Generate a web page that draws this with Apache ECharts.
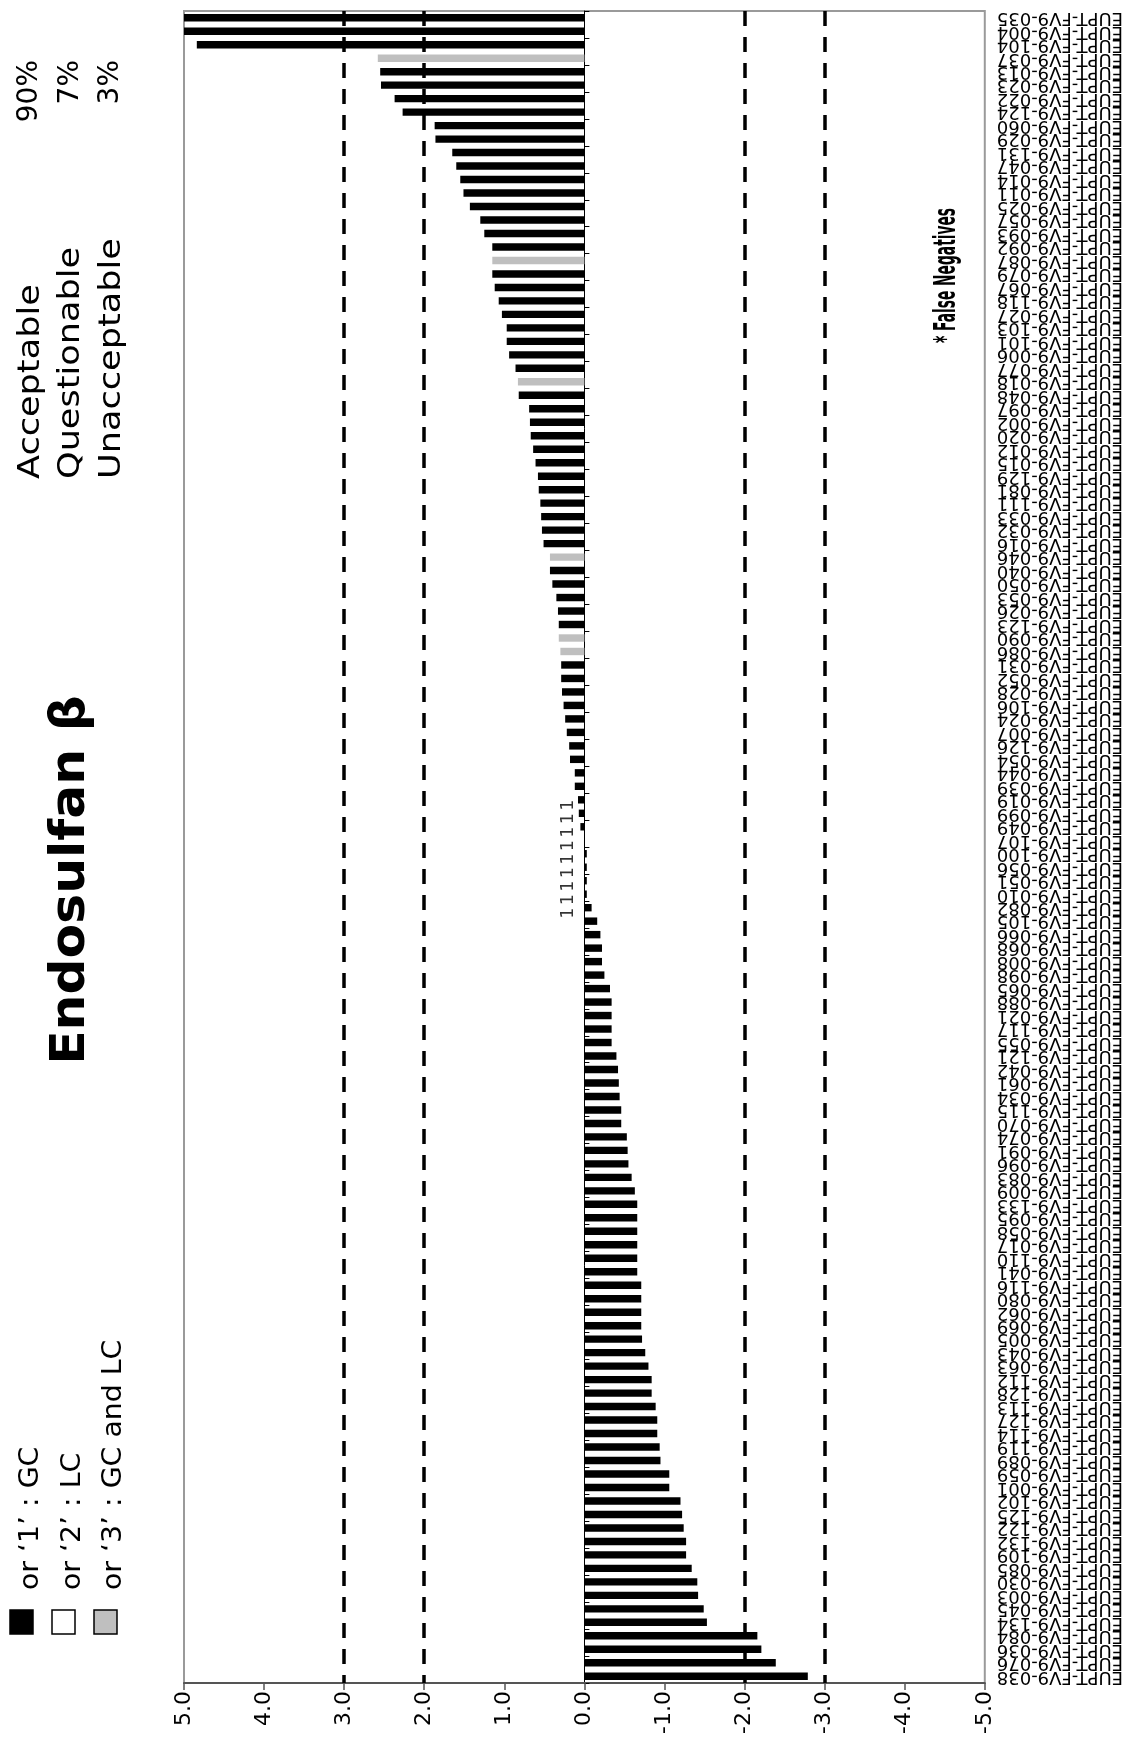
<!DOCTYPE html>
<html><head><meta charset="utf-8">
<script src="https://cdn.jsdelivr.net/npm/echarts@6/dist/echarts.min.js"></script>
<style>html,body{margin:0;padding:0;background:#fff}#c{width:1126px;height:1747px}</style>
</head><body><div id="c"></div>
<script>
// Categories, listed from the top of the chart to the bottom
const labIds = ['035','004','104','037','013','023','022','124','060','029','131','047','014','011','025','057','093','092','087','079','067',
'118','027','103','101','006','077','018','048','097','002','020','012','015','129','081','111','033','032','016','046','040','050','053',
'026','123','090','086','031','052','028','106','024','007','126','054','044','039','019','099','049','107','100','056','051','010',
'082','105','066','068','008','098','065','088','021','117','055','121','042','061','034','115','070','074','091','096','083','009',
'133','095','058','017','110','041','116','080','062','069','005','043','063','112','128','113','127','114','119',
'089','059','001','102','125','122','132','109','085','030','003','045','134','084','036','076','038'];
const categories = labIds.map(id => 'EUPT-FV9-' + id);

// z-scores (same order)
const zScores = [5.0,5.0,4.84,2.58,2.55,2.54,2.37,2.27,1.87,1.86,
1.65,1.60,1.55,1.51,1.43,1.30,1.25,1.15,1.15,1.15,
1.12,1.07,1.03,0.97,0.97,0.94,0.86,0.83,0.82,0.69,
0.68,0.67,0.64,0.61,0.58,0.57,0.55,0.54,0.53,0.51,
0.43,0.43,0.40,0.35,0.33,0.32,0.32,0.30,0.29,0.29,
0.28,0.26,0.24,0.22,0.19,0.18,0.12,0.12,0.08,0.07,
0.05,0.00,-0.03,-0.03,-0.03,-0.03,-0.09,-0.16,-0.20,-0.22,
-0.22,-0.25,-0.32,-0.34,-0.34,-0.34,-0.34,-0.40,-0.42,-0.43,
-0.44,-0.46,-0.46,-0.53,-0.54,-0.55,-0.59,-0.63,-0.66,-0.66,
-0.66,-0.66,-0.66,-0.66,-0.71,-0.71,-0.71,-0.71,-0.72,-0.76,
-0.80,-0.84,-0.84,-0.89,-0.91,-0.91,-0.94,-0.95,-1.06,-1.06,
-1.20,-1.22,-1.24,-1.27,-1.27,-1.34,-1.41,-1.42,-1.49,-1.53,
-2.16,-2.21,-2.39,-2.79];

// method: 1 = GC, 2 = LC, 3 = GC and LC
const methods = [1,1,1,3,1,1,1,1,1,1,
1,1,1,1,1,1,1,1,3,1,
1,1,1,1,1,1,1,3,1,1,
1,1,1,1,1,1,1,1,1,1,
3,1,1,1,1,1,3,3,1,1,
1,1,1,1,1,1,1,1,1,1,
1,1,1,1,1,1,1,1,1,1,
1,1,1,1,1,1,1,1,1,1,
1,1,1,1,1,1,1,1,1,1,
1,1,1,1,1,1,1,1,1,1,
1,1,1,1,1,1,1,1,1,1,
1,1,1,1,1,1,1,1,1,1,
1,1,1,1];

// rows whose bars are too short to show colour get the method code as text
const labelledRows = [58,59,60,61,62,63,64,65,66];

const limitLines = [3, 2, -2, -3];
const summary = [['Acceptable','90%'],['Questionable','7%'],['Unacceptable','3%']];
const legendItems = [['#000','or \u20181\u2019 : GC'],['#fff','or \u20182\u2019 : LC'],['#bfbfbf','or \u20183\u2019 : GC and LC']];

const methodColor = {1:'#000000', 2:'#ffffff', 3:'#bfbfbf'};
const FONT = 'DejaVu Sans';

const chart = echarts.init(document.getElementById('c'), null, {renderer:'canvas'});

const graphics = [];
graphics.push({type:'text', x:72, y:880, rotation:Math.PI/2, scaleX:1.05,
  style:{text:'Endosulfan \u03b2', fontSize:48, fontWeight:'bold', fontFamily:FONT, fill:'#000', align:'center', verticalAlign:'middle'}});
summary.forEach((s,i)=>{
  graphics.push({type:'text', x:31+40.5*i, y:479, rotation:Math.PI/2, scaleX:1.17,
    style:{text:s[0], fontSize:30, fontFamily:FONT, fill:'#000', align:'left', verticalAlign:'middle'}});
  graphics.push({type:'text', x:30+40.5*i, y:60, rotation:Math.PI/2, scaleX:1.0,
    style:{text:s[1], fontSize:28, fontFamily:FONT, fill:'#000', align:'right', verticalAlign:'middle'}});
});
legendItems.forEach((l,i)=>{
  graphics.push({type:'rect', x:10+42*i, y:1610, shape:{x:0,y:0,width:23,height:24},
    style:{fill:l[0], stroke:'#000', lineWidth:1.5}});
  graphics.push({type:'text', x:31+41.5*i, y:1590, rotation:Math.PI/2, scaleX:1.05,
    style:{text:l[1], fontSize:27, fontFamily:FONT, fill:'#000', align:'left', verticalAlign:'middle'}});
});
graphics.push({type:'text', x:947, y:343, rotation:Math.PI/2, scaleX:0.46,
  style:{text:'* False Negatives', fontSize:30, fontWeight:'bold', fontFamily:FONT, fill:'#000', align:'left', verticalAlign:'middle'}});

const option = {
  animation:false,
  backgroundColor:'#fff',
  grid:{left:184, right:138, top:11, bottom:64, show:true, borderColor:'#9a9a9a', borderWidth:2, containLabel:false},
  xAxis:{type:'value', min:-5, max:5, interval:1, inverse:true, position:'bottom',
    axisLine:{show:true, lineStyle:{color:'#555', width:2}},
    axisTick:{show:true, length:7, lineStyle:{color:'#555', width:1.5}},
    splitLine:{show:false},
    axisLabel:{rotate:90, margin:8, fontSize:22, fontFamily:FONT, color:'#000', formatter:v=>v.toFixed(1)}},
  yAxis:[
    {type:'category', data:categories, inverse:true, position:'right',
      axisLine:{show:true, onZero:true, lineStyle:{color:'#000', width:1}},
      axisTick:{show:true, length:5, lineStyle:{color:'#000', width:1}},
      axisLabel:{show:false}, splitLine:{show:false}},
    {type:'category', data:categories, inverse:true, position:'right',
      axisLine:{show:false, onZero:false}, axisTick:{show:false}, splitLine:{show:false},
      axisLabel:{show:true, interval:0, rotate:180, margin:12, fontSize:18, fontFamily:FONT, color:'#000'}}
  ],
  series:[
    {type:'bar', xAxisIndex:0, yAxisIndex:0, barWidth:'55%',
      data:zScores.map((v,i)=>({value:v, itemStyle:{color:methodColor[methods[i]]}})),
      markLine:{silent:true, symbol:'none', label:{show:false},
        lineStyle:{color:'#000', width:3.5, type:[15,11]},
        data:limitLines.map(v=>({xAxis:v}))}},
    {type:'scatter', xAxisIndex:0, yAxisIndex:0, symbolSize:0, z:5,
      data:labelledRows.map(i=>[0, i]),
      label:{show:true, position:'left', distance:16, rotate:90, fontSize:17, fontFamily:FONT, color:'#000',
        formatter:p=>String(methods[p.data[1]])}}
  ],
  graphic:graphics
};
chart.setOption(option);
</script>
</body></html>
